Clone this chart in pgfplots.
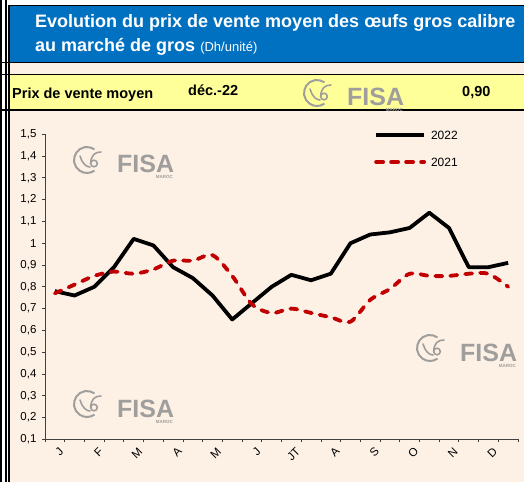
\documentclass[border=0pt]{standalone}
\usepackage{fontspec}
\setmainfont{Liberation Sans}
\usepackage{pgfplots}
\usepackage{pgfplotstable}
\pgfplotsset{compat=1.18}

\definecolor{hdrblue}{RGB}{0,112,192}
\definecolor{peach}{RGB}{253,241,230}
\definecolor{lightyel}{RGB}{255,255,153}
\definecolor{darkred}{RGB}{192,0,0}
\definecolor{logogray}{RGB}{160,158,156}

% semi-monthly prices, 24 points (Dh/unite)
\pgfplotstableread{
idx y2022 y2021
0  0.78  0.77
1  0.76  0.81
2  0.80  0.85
3  0.89  0.87
4  1.02  0.86
5  0.99  0.88
6  0.89  0.92
7  0.84  0.92
8  0.76  0.945
9  0.65  0.85
10 0.725 0.72
11 0.80  0.68
12 0.855 0.70
13 0.83  0.68
14 0.86  0.66
15 1.00  0.64
16 1.04  0.74
17 1.05  0.79
18 1.07  0.86
19 1.14  0.85
20 1.07  0.85
21 0.89  0.86
22 0.89  0.86
23 0.91  0.80
}\prixtable

% watermark logo, #1,#2 = centre of the ring
\newcommand\fisalogo[2]{%
  \draw[logogray, line width=2pt] (#1,#2) ++(55:13) arc (55:305:13);
  \draw[logogray, line width=1.6pt, line cap=round]
    (#1-7,#2+4) .. controls (#1-5,#2-3) and (#1-1,#2-7) .. (#1+3,#2-7);
  \draw[logogray, line width=1.6pt] (#1+7,#2-3.5) circle (3.3);
  \draw[logogray, line width=1.6pt, line cap=round]
    (#1+3.7,#2-3.5) .. controls (#1+4,#2+5) and (#1+8,#2+8) .. (#1+14,#2+8);
  \node[anchor=base west, inner sep=0pt, text=logogray,
        font=\fontsize{25}{25}\selectfont\bfseries] at (#1+30,#2-13) {FISA};
  \node[anchor=base east, inner sep=0pt, text=logogray,
        font=\fontsize{4.5}{5}\selectfont\bfseries] at (#1+86,#2-19) {MAROC};
}

\begin{document}
\begin{tikzpicture}[x=1pt,y=1pt]
\useasboundingbox (0,0) rectangle (524,482);
\fill[white] (0,0) rectangle (524,482);
% sheet cells
\fill[peach] (9,0) rectangle (524,420);
\fill[hdrblue] (9,476.5) rectangle (524,420);
\fill[lightyel] (9,407.5) rectangle (524,372);
\draw[black, line width=1.5pt] (9,476.5) -- (524,476.5);
\draw[black, line width=1.5pt] (0,419.5) -- (524,419.5);
\draw[black, line width=1.5pt] (0,407.5) -- (524,407.5);
\draw[black, line width=1.5pt] (0,372) -- (524,372);
\draw[black, line width=1.5pt] (1,0) -- (1,482);
\draw[black, line width=1.5pt] (6,0) -- (6,482);
\draw[black, line width=1.5pt] (9,0) -- (9,477.2);
% header text
\node[anchor=base west, inner sep=0pt, text=white,
      font=\fontsize{18}{20}\selectfont\bfseries] at (35,454.7)
      {Evolution du prix de vente moyen des œufs gros calibre};
\node[anchor=base west, inner sep=0pt, text=white,
      font=\fontsize{18}{20}\selectfont\bfseries] at (35,430)
      {au marché de gros {\fontsize{13}{15}\selectfont\mdseries (Dh/unité)}};
% yellow band
\node[anchor=base west, inner sep=0pt, font=\fontsize{14.5}{16}\selectfont\bfseries]
      at (12,383.7) {Prix de vente moyen};
\node[anchor=base west, inner sep=0pt, font=\fontsize{14.5}{16}\selectfont\bfseries]
      at (188,386.5) {déc.-22};
\node[anchor=base west, inner sep=0pt, font=\fontsize{14.5}{16}\selectfont\bfseries]
      at (462,385) {0,90};
% watermarks
\fisalogo{87}{322}
\fisalogo{317}{389}
\fisalogo{430}{134}
\fisalogo{87}{78}

\begin{axis}[
  at={(45pt,42.7pt)}, anchor=south west,
  scale only axis, width=473pt, height=305pt,
  xmin=-0.5, xmax=23.5, ymin=0.1, ymax=1.5,
  axis x line=bottom, axis y line=left,
  axis line style={-, black!75, line width=0.9pt},
  tick align=outside, major tick length=3pt, minor tick length=3pt,
  tick style={black!75, line width=0.8pt},
  ytick={0.1,0.2,0.3,0.4,0.5,0.6,0.7,0.8,0.9,1,1.1,1.2,1.3,1.4,1.5},
  yticklabel style={font=\fontsize{11.5}{13}\selectfont, xshift=-2pt,
    /pgf/number format/.cd, fixed, use comma, precision=1},
  /pgf/number format/assume math mode=true,
  xtick={0,2,...,22},
  xticklabels={J,F,M,A,M,J,JT,A,S,O,N,D},
  major x tick style={draw=none},
  minor xtick={-0.5,0.5,...,23.5},
  xticklabel style={font=\fontsize{11.5}{13}\selectfont, rotate=45,
    anchor=east, xshift=3pt, yshift=-10pt},
  legend style={draw=none, fill=none, inner sep=0pt,
    at={(0.6956,1.012)}, anchor=north west,
    font=\fontsize{12}{14}\selectfont, row sep=18pt,
    nodes={inner sep=0pt, text height=8.7pt, text depth=0pt}},
  legend cell align=left,
  legend image code/.code={\draw[#1] (0pt,0pt) -- (48pt,0pt); \path (53pt,0pt);},
]
\addplot[black, line width=3.8pt, line join=round] table[x=idx, y=y2022] {\prixtable};
\addlegendentry{2022}
\addplot[darkred, line width=3.8pt, smooth, tension=0.5, line cap=round,
  dash pattern=on 7pt off 8pt] table[x=idx, y=y2021] {\prixtable};
\addlegendentry{2021}
\end{axis}
\end{tikzpicture}
\end{document}
